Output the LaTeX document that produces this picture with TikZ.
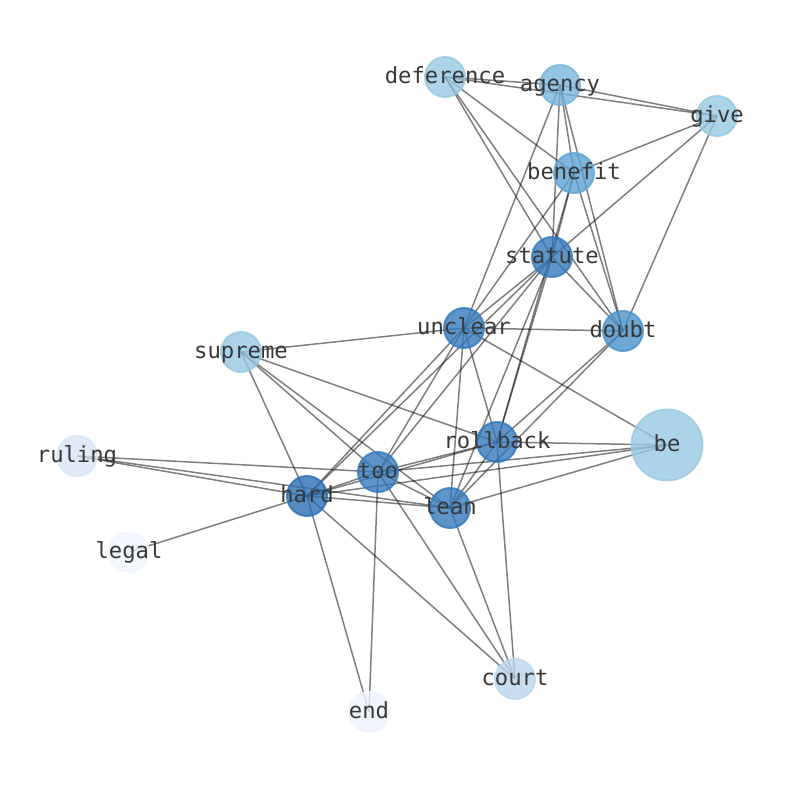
\documentclass[tikz,border=0pt]{standalone}
\usepackage{fontspec}
\setmonofont{DejaVu Sans Mono}
\usetikzlibrary{backgrounds}
\definecolor{cA}{HTML}{2A6FB5}
\definecolor{cB}{HTML}{3479BB}
\definecolor{cC}{HTML}{4A92CA}
\definecolor{cD}{HTML}{5EA3D3}
\definecolor{cE}{HTML}{78B5DC}
\definecolor{cF}{HTML}{98C8E2}
\definecolor{cG}{HTML}{B9D6EC}
\definecolor{cH}{HTML}{D8E6F5}
\definecolor{cI}{HTML}{EDF4FC}
\definecolor{cJ}{HTML}{EFF6FD}
\definecolor{txt}{HTML}{383838}
\tikzset{
  vtx/.style={circle, minimum size=40pt, inner sep=0pt, line width=2pt,
    fill=#1, draw=#1, fill opacity=0.8, draw opacity=0.8},
  bigvtx/.style={vtx=#1, minimum size=71pt},
  lbl/.style={text=txt, inner sep=0pt, text opacity=1, fill opacity=0,
    font=\ttfamily\fontsize{22.2}{26}\selectfont, text height=14pt, text depth=6pt, yshift=-2.5pt},
  edge/.style={draw=black, opacity=0.5, line width=1.5pt}
}
\begin{document}
\begin{tikzpicture}[x=1pt,y=-1pt]
\useasboundingbox (0,0) rectangle (794,790);
\node[vtx=cF, label={[lbl]center:deference}] (deference) at (445,77) {};
\node[vtx=cE, label={[lbl]center:agency}] (agency) at (560,85) {};
\node[vtx=cF, label={[lbl]center:give}] (give) at (717,116) {};
\node[vtx=cD, label={[lbl]center:benefit}] (benefit) at (574,173) {};
\node[vtx=cB, label={[lbl]center:statute}] (statute) at (552,257) {};
\node[vtx=cB, label={[lbl]center:unclear}] (unclear) at (464,328) {};
\node[vtx=cC, label={[lbl]center:doubt}] (doubt) at (623,331) {};
\node[vtx=cF, label={[lbl]center:supreme}] (supreme) at (241,352) {};
\node[bigvtx=cF, label={[lbl]center:be}] (be) at (667,445) {};
\node[vtx=cB, label={[lbl]center:rollback}] (rollback) at (497,442) {};
\node[vtx=cH, label={[lbl]center:ruling}] (ruling) at (77,456) {};
\node[vtx=cB, label={[lbl]center:too}] (too) at (378,472) {};
\node[vtx=cA, label={[lbl]center:hard}] (hard) at (307,496) {};
\node[vtx=cB, label={[lbl]center:lean}] (lean) at (450,508) {};
\node[vtx=cJ, label={[lbl]center:legal}] (legal) at (129,552) {};
\node[vtx=cG, label={[lbl]center:court}] (court) at (515,679) {};
\node[vtx=cI, label={[lbl]center:end}] (end) at (369,712) {};
\begin{pgfonlayer}{background}
\foreach \a/\b in {deference/agency, deference/give, deference/benefit, deference/statute, deference/doubt,
  agency/give, agency/benefit, agency/statute, agency/unclear, agency/doubt,
  give/benefit, give/statute, give/doubt,
  benefit/statute, benefit/unclear, benefit/rollback, benefit/doubt,
  statute/unclear, statute/doubt, statute/too, statute/hard, statute/rollback, statute/lean,
  unclear/doubt, unclear/supreme, unclear/be, unclear/rollback, unclear/too, unclear/hard, unclear/lean,
  doubt/rollback, doubt/lean,
  supreme/rollback, supreme/too, supreme/lean, supreme/hard,
  be/rollback, be/too, be/hard, be/lean,
  rollback/too, rollback/hard, rollback/lean, rollback/court,
  ruling/too, ruling/hard, ruling/lean,
  too/hard, too/lean, too/court, too/end,
  hard/lean, hard/legal, hard/court, hard/end,
  lean/court}
  \draw[edge] (\a.center) -- (\b.center);
\end{pgfonlayer}
\end{tikzpicture}
\end{document}
